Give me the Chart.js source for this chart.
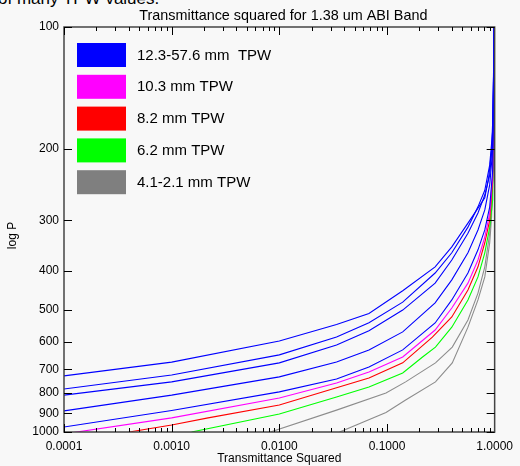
<!DOCTYPE html>
<html>
<head>
<meta charset="utf-8">
<script src="https://cdn.jsdelivr.net/npm/chart.js@4.4.0/dist/chart.umd.min.js"></script>
<style>
  html, body { margin: 0; padding: 0; background: #f8f8f8; overflow: hidden; }
  #wrap { position: relative; width: 520px; height: 466px; }
  #cut { position: absolute; left: -2px; top: -11px; font: 17px "Liberation Sans", Arial, sans-serif; color: #000; white-space: nowrap; }
  canvas { position: absolute; left: 0; top: 0; }
</style>
</head>
<body>
<div id="wrap">
  <div id="cut">of many TPW values.</div>
  <canvas id="tpwChart" width="520" height="466"></canvas>
</div>
<script>
// transmittance squared (x) vs pressure (y), one curve per TPW case
var xCommon = [0.0001, 0.001, 0.01, 0.034, 0.068, 0.14, 0.28, 0.40, 0.565, 0.70, 0.81, 0.90, 0.959, 0.99];
var xBlue1 = [0.0001, 0.001, 0.01, 0.034, 0.068, 0.14, 0.28, 0.40, 0.565, 0.70, 0.81, 0.88, 0.937, 0.968, 0.99];
var pBlue1 = [727, 672, 596, 543, 510, 448, 391, 349, 305, 280, 264, 235, 201, 160, 100];
var pBlue2 = [783, 723, 645, 583, 537, 478, 405, 361, 312, 278, 253, 219, 180, 100];
var pBlue3 = [811, 752, 675, 610, 562, 500, 429, 376, 323, 288, 260, 232, 190, 100];
var pBlue4 = [887, 811, 731, 672, 627, 566, 480, 421, 361, 317, 283, 245, 201, 100];
var pBlue5 = [972, 885, 796, 740, 691, 627, 538, 472, 405, 355, 317, 278, 226, 100];
var pMagenta = [1011, 923, 824, 757, 711, 653, 560, 494, 429, 376, 330, 288, 232, 100];
var xRed = [0.000403, 0.001, 0.00218, 0.01, 0.034, 0.068, 0.14, 0.264, 0.40, 0.565, 0.70, 0.81, 0.90, 0.959, 0.99];
var pRed = [1000, 961, 923, 858, 778, 736, 675, 583, 520, 446, 391, 341, 300, 239, 100];
var xGreen = [0.00153, 0.01, 0.034, 0.068, 0.14, 0.214, 0.282, 0.40, 0.565, 0.70, 0.81, 0.90, 0.959, 0.99];
var pGreen = [1000, 903, 820, 774, 715, 653, 617, 551, 472, 414, 361, 312, 267, 100];
var xGray1 = [0.00827, 0.034, 0.0979, 0.149, 0.282, 0.404, 0.565, 0.70, 0.81, 0.90, 0.937, 0.98, 0.994];
var pGray1 = [1000, 883, 801, 752, 675, 617, 529, 454, 391, 323, 283, 201, 100];
var xGray2 = [0.0363, 0.0979, 0.149, 0.282, 0.404, 0.565, 0.70, 0.81, 0.90, 0.937, 0.98, 0.994];
var pGray2 = [1000, 895, 834, 752, 675, 551, 472, 414, 341, 294, 201, 100];

var xTickValues = [0.0001, 0.001, 0.01, 0.1, 1];
var xTickLabels = ["0.0001", "0.0010", "0.0100", "0.1000", "1.0000"];
var yTickValues = [100, 200, 300, 400, 500, 600, 700, 800, 900, 1000];
var yTickLabels = ["100", "200", "300", "400", "500", "600", "700", "800", "900", "1000"];

var legendLabels = ["12.3-57.6 mm  TPW", "10.3 mm TPW", "8.2 mm TPW", "6.2 mm TPW", "4.1-2.1 mm TPW"];
var legendColors = ["#0000ff", "#ff00ff", "#ff0000", "#00ff00", "#7f7f7f"];

function pts(xs, ps) {
    return xs.map(function (x, i) { return { x: x, y: ps[i] }; });
}

function curve(xs, ps, color) {
    return { data: pts(xs, ps), borderColor: color, borderWidth: 1.1, pointRadius: 0, tension: 0, fill: false };
}

var FONT = '"Liberation Sans", Arial, sans-serif';

var framePlugin = {
    id: 'frame',
    afterDraw: function (chart) {
        var ctx = chart.ctx;
        var a = chart.chartArea;
        var xs = chart.scales.x, ys = chart.scales.y;
        ctx.save();

        // plot box
        ctx.strokeStyle = '#444';
        ctx.lineWidth = 1.5;
        ctx.strokeRect(a.left, a.top, a.right - a.left, a.bottom - a.top);

        // ticks, drawn inward
        ctx.lineWidth = 1;
        ctx.strokeStyle = '#000';
        ctx.beginPath();
        yTickValues.forEach(function (v) {
            var py = Math.round(ys.getPixelForValue(v)) + 0.5;
            ctx.moveTo(a.left, py); ctx.lineTo(a.left + 8, py);
            ctx.moveTo(a.right, py); ctx.lineTo(a.right - 8, py);
        });
        for (var d = -4; d < 0; d++) {
            for (var m = 1; m <= 9; m++) {
                var v = m * Math.pow(10, d);
                var px = Math.round(xs.getPixelForValue(v)) + 0.5;
                var len = m === 1 ? 8 : 4;
                ctx.moveTo(px, a.bottom); ctx.lineTo(px, a.bottom - len);
                ctx.moveTo(px, a.top); ctx.lineTo(px, a.top + len);
            }
        }
        ctx.stroke();

        // legend inside plot
        ctx.font = '15px ' + FONT;
        ctx.textBaseline = 'middle';
        ctx.textAlign = 'left';
        legendLabels.forEach(function (lab, i) {
            var top = 43 + i * 31.8;
            ctx.fillStyle = legendColors[i];
            ctx.fillRect(77, top, 49, 24);
            ctx.fillStyle = '#000';
            ctx.fillText(lab, 137, top + 12.5);
        });

        // titles
        ctx.font = '14.4px ' + FONT;
        ctx.textAlign = 'center';
        ctx.fillText('Transmittance squared for 1.38 um ABI Band', (a.left + a.right) / 2 + 4, 16);
        ctx.font = '12px ' + FONT;
        ctx.fillText('Transmittance Squared', (a.left + a.right) / 2, 459);
        ctx.translate(13, (a.top + a.bottom) / 2 + 6);
        ctx.rotate(-Math.PI / 2);
        ctx.fillText('log P', 0, 0);
        ctx.restore();
    }
};

var tpwChart = new Chart(document.getElementById('tpwChart'), {
    type: 'line',
    data: {
        datasets: [
            curve(xBlue1, pBlue1, '#0000ff'),
            curve(xCommon, pBlue2, '#0000ff'),
            curve(xCommon, pBlue3, '#0000ff'),
            curve(xCommon, pBlue4, '#0000ff'),
            curve(xCommon, pBlue5, '#0000ff'),
            curve(xCommon, pMagenta, '#ff00ff'),
            curve(xRed, pRed, '#ff0000'),
            curve(xGreen, pGreen, '#00ff00'),
            curve(xGray1, pGray1, '#8c8c8c'),
            curve(xGray2, pGray2, '#8c8c8c')
        ]
    },
    options: {
        responsive: false,
        animation: false,
        events: [],
        layout: { padding: { top: 27, left: 0, right: 20, bottom: 0 } },
        plugins: { legend: { display: false }, tooltip: { enabled: false } },
        scales: {
            x: {
                type: 'logarithmic',
                min: 0.0001,
                max: 1,
                grid: { display: false, drawTicks: false },
                border: { display: false },
                afterBuildTicks: function (scale) {
                    scale.ticks = xTickValues.map(function (v) { return { value: v }; });
                },
                afterFit: function (scale) { scale.height = 34; },
                ticks: {
                    autoSkip: false,
                    maxRotation: 0,
                    padding: 7,
                    color: '#000',
                    font: { family: FONT, size: 12 },
                    callback: function (v, i) { return xTickLabels[i]; }
                }
            },
            y: {
                type: 'logarithmic',
                reverse: true,
                min: 100,
                max: 1000,
                grid: { display: false, drawTicks: false },
                border: { display: false },
                afterBuildTicks: function (scale) {
                    scale.ticks = yTickValues.map(function (v) { return { value: v }; });
                },
                afterFit: function (scale) { scale.width = 64; },
                ticks: {
                    autoSkip: false,
                    padding: 5,
                    color: '#000',
                    font: { family: FONT, size: 12 },
                    callback: function (v, i) { return yTickLabels[i]; }
                }
            }
        }
    },
    plugins: [framePlugin]
});
</script>
</body>
</html>
